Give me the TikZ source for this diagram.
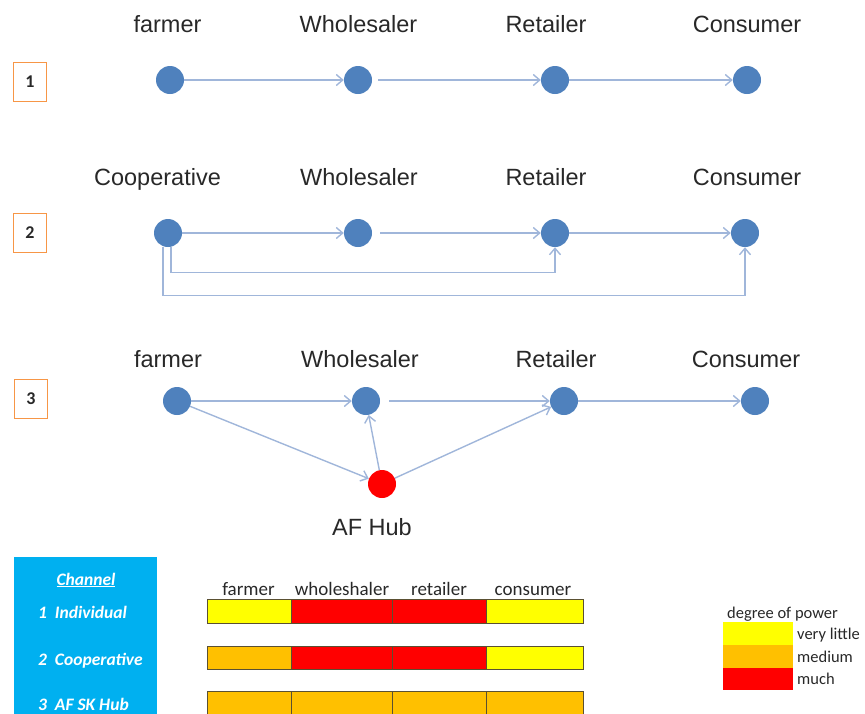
\documentclass[tikz,border=0pt]{standalone}
\usepackage{fontspec}
\setmainfont{Liberation Sans}
\newfontfamily\calfont{Carlito}
\usetikzlibrary{arrows.meta}
\definecolor{NodeBlue}{RGB}{79,129,189}
\definecolor{LinkBlue}{RGB}{160,182,218}
\definecolor{TagOrange}{RGB}{247,150,70}
\definecolor{PanelBlue}{RGB}{0,176,240}
\definecolor{PowLow}{RGB}{255,255,0}
\definecolor{PowMid}{RGB}{255,192,0}
\definecolor{PowHigh}{RGB}{255,0,0}
\definecolor{InkGrey}{RGB}{40,40,40}
\definecolor{CellEdge}{RGB}{90,80,50}
\tikzset{
  actor/.style={
    fill=NodeBlue, circle, inner sep=0pt, minimum size=28pt
  },
  hub/.style={
    actor, fill=PowHigh
  },
  role/.style={
    anchor=base, inner sep=0pt, text=InkGrey,
    font=\fontsize{23.5}{26}\selectfont
  },
  link/.style={
    draw=LinkBlue, line width=1.4pt, ->
  },
  channel tag/.style={
    draw=TagOrange, line width=1.8pt, inner sep=0pt,
    minimum width=33pt, minimum height=39pt, text=InkGrey,
    font=\calfont\bfseries\fontsize{18}{20}\selectfont
  },
  panel text/.style={
    anchor=base west, inner sep=0pt, text=white,
    font=\calfont\bfseries\itshape\fontsize{17.5}{20}\selectfont
  },
  power head/.style={
    anchor=base, inner sep=0pt, text=InkGrey,
    font=\calfont\fontsize{19}{22}\selectfont
  },
  key text/.style={
    anchor=base west, inner sep=0pt, text=InkGrey,
    font=\calfont\fontsize{16.5}{19}\selectfont
  },
}

\begin{document}
\begin{tikzpicture}[x=1pt, y=-1pt, >={Straight Barb[length=6.5pt,width=11pt]}]
  \useasboundingbox (0,0) rectangle (865,713);

  % channel 1
  \node[channel tag] (t1) at (30,82) {1};
  \node[actor] (f1) at (170,80) {};
  \node[actor] (w1) at (358,80) {}
    edge[link, <-] (f1);
  \node[actor] (r1) at (555,80) {}
    edge[link, <-, shorten >=6pt] (w1);
  \node[actor] (c1) at (747,80) {}
    edge[link, <-] (r1);
  \node[role] (lf1) at (167.5,32) {farmer};
  \node[role] (lw1) at (358.5,32) {Wholesaler};
  \node[role] (lr1) at (546,32) {Retailer};
  \node[role] (lc1) at (747,32) {Consumer};

  % channel 2
  \node[channel tag] (t2) at (30,233) {2};
  \node[actor] (f2) at (168,233) {};
  \node[actor] (w2) at (358,233) {}
    edge[link, <-] (f2);
  \node[actor] (r2) at (555,233) {}
    edge[link, <-, shorten >=8pt] (w2);
  \node[actor] (c2) at (745,233) {}
    edge[link, <-] (r2);
  \draw[link] ([xshift=3pt]f2.south) -- ++(0,25) -| (r2.south);
  \draw[link] ([xshift=-5pt]f2.south) -- ++(0,48) -| (c2.south);
  \node[role] (lf2) at (157.5,185) {Cooperative};
  \node[role] (lw2) at (359,185) {Wholesaler};
  \node[role] (lr2) at (546,185) {Retailer};
  \node[role] (lc2) at (747,185) {Consumer};

  % channel 3
  \node[channel tag] (t3) at (31,399) {3};
  \node[actor] (f3) at (177,401) {};
  \node[actor] (w3) at (366,401) {}
    edge[link, <-] (f3);
  \node[actor] (r3) at (564,401) {}
    edge[link, <-, shorten >=9pt] (w3);
  \node[actor] (c3) at (755,401) {}
    edge[link, <-] (r3);
  \node[hub] (h3) at (382,484) {}
    edge[link, <-] (f3)
    edge[link, ->] (w3)
    edge[link, ->] (r3);
  \node[role] (lf3) at (168,367) {farmer};
  \node[role] (lw3) at (360,367) {Wholesaler};
  \node[role] (lr3) at (556,367) {Retailer};
  \node[role] (lc3) at (746,367) {Consumer};
  \node[role] (lh3) at (372,535) {AF Hub};

  % power table
  \fill[PanelBlue] (14,557) rectangle (157,716);
  \node[panel text, anchor=base] (p0) at (86,585) {\underline{Channel}};
  \node[panel text] (p1) at (38,618) {1\ \ Individual};
  \node[panel text] (p2) at (38,665) {2\ \ Cooperative};
  \node[panel text] (p3) at (38,710) {3\ \ AF SK Hub};

  \node[power head] (hf) at (248.5,595) {farmer};
  \node[power head] (hw) at (342,595) {wholeshaler};
  \node[power head] (hr) at (439,595) {retailer};
  \node[power head] (hc) at (533,595) {consumer};

  \foreach \top/\bot/\ca/\cb/\cc/\cd in {
      599/623/PowLow/PowHigh/PowHigh/PowLow,
      646/669/PowMid/PowHigh/PowHigh/PowLow,
      691/716/PowMid/PowMid/PowMid/PowMid}{
    \draw[CellEdge, line width=.8pt, fill=\ca] (207,\top) rectangle (291,\bot);
    \draw[CellEdge, line width=.8pt, fill=\cb] (291,\top) rectangle (392,\bot);
    \draw[CellEdge, line width=.8pt, fill=\cc] (392,\top) rectangle (486,\bot);
    \draw[CellEdge, line width=.8pt, fill=\cd] (486,\top) rectangle (583,\bot);
  }

  % key
  \node[key text] (k0) at (727,618) {degree of power};
  \fill[PowLow] (723,622) rectangle (793,645);
  \fill[PowMid] (723,645) rectangle (793,668);
  \fill[PowHigh] (723,668) rectangle (793,690);
  \node[key text] (k1) at (797,639) {very little};
  \node[key text] (k2) at (797,662) {medium};
  \node[key text] (k3) at (797,684) {much};
\end{tikzpicture}
\end{document}
